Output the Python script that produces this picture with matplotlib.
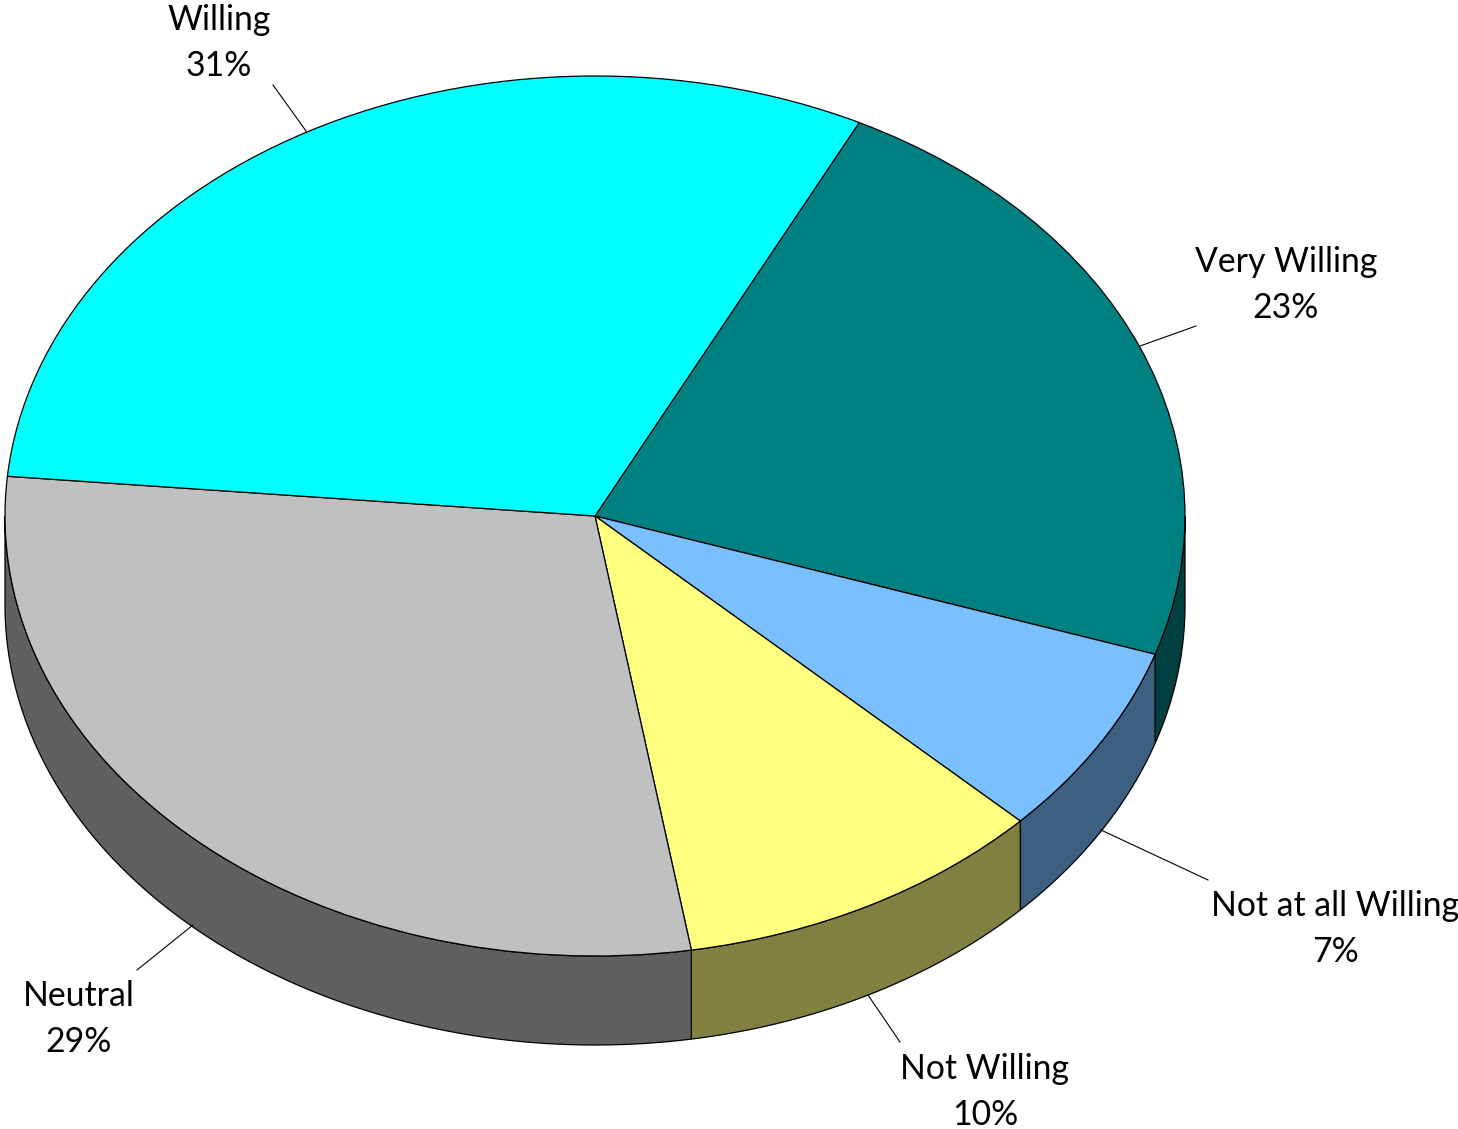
import matplotlib
matplotlib.use('Agg')
import matplotlib.pyplot as plt
import numpy as np

# values
categorias = ['Very Willing', 'Not at all Willing', 'Not Willing', 'Neutral', 'Willing']
valores = [22.7, 7.1, 10.2, 29.05, 30.95]
rotulos_pct = ['23%', '7%', '10%', '29%', '31%']
cores = ['#008080', '#7ABFFF', '#FFFF80', '#C0C0C0', '#00FFFF']
cores_lado = ['#004040', '#3D6080', '#808040', '#606060', '#008080']

# label centre and leader line, in pixels of the picture
pos_rotulos = [(1286, 285), (1335, 929), (985, 1092), (79, 1019), (219, 43)]
guias = [((1196, 326), (1140, 346)), ((1208, 880), (1101, 830)),
         ((900, 1042), (868, 995)), ((137, 970), (193, 925)), ((273, 85), (306, 131))]

LARG, ALT = 1458, 1129
CX, CY, RX, RY = 595, 516, 590, 440
PROF = 89 / RY
INICIO = 63.4


def px(x, y):
    return (x - CX) / RX, (CY - y) / RY


fig = plt.figure(figsize=(LARG / 100, ALT / 100), dpi=100)
ax = fig.add_axes([0, 0, 1, 1])

# side wall, only the lower half of the ellipse is visible
ang = INICIO
for valor, cor in zip(valores, cores_lado):
    fim = ang - valor * 3.6
    ini, ate = max(fim, -180), min(ang, 0)
    if ate > ini:
        t = np.radians(np.linspace(ini, ate, 200))
        xs = np.concatenate([np.cos(t), np.cos(t)[::-1]])
        ys = np.concatenate([np.sin(t), np.sin(t)[::-1] - PROF])
        ax.fill(xs, ys, facecolor=cor, edgecolor='black', linewidth=0.9, zorder=1)
    ang = fim

# top of the pie
ax.pie(valores, colors=cores, startangle=INICIO, counterclock=False, radius=1,
       wedgeprops={'edgecolor': 'black', 'linewidth': 0.9, 'zorder': 2})

ax.set_aspect('auto')
ax.set_xlim((0 - CX) / RX, (LARG - CX) / RX)
ax.set_ylim((CY - ALT) / RY, CY / RY)
ax.axis('off')

for cat, pct, (x, y), (p1, p2) in zip(categorias, rotulos_pct, pos_rotulos, guias):
    xl, yl = zip(px(*p1), px(*p2))
    ax.plot(xl, yl, color='black', linewidth=0.8, zorder=3)
    tx, ty = px(x, y)
    ax.text(tx, ty, f'{cat}\n{pct}', ha='center', va='center', fontsize=24.3,
            family='Lato', linespacing=1.53, zorder=4)

fig.savefig('out.png', dpi=100, facecolor='white')
